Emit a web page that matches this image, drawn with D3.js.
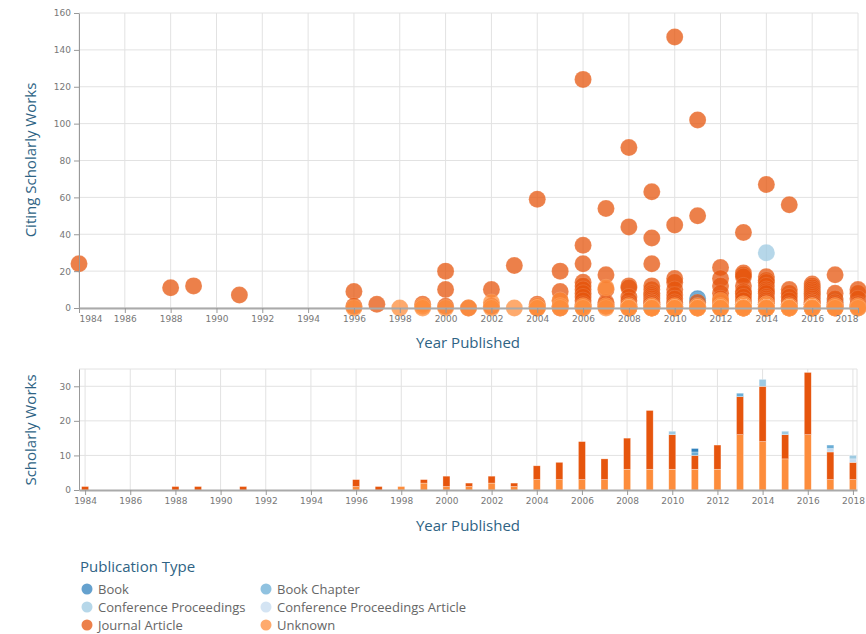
<!DOCTYPE html>
<html>
<head>
<meta charset="utf-8">
<script src="https://cdn.jsdelivr.net/npm/d3@7"></script>
<style>
  body { margin: 0; background: #fff; }
  svg { display: block; }
  .tick text { font-family: "DejaVu Sans", sans-serif; font-size: 9px; fill: #777; }
  .title { font-family: "Open Sans", sans-serif; font-size: 15px; fill: #2e6384; }
  .legend text { font-family: "Open Sans", sans-serif; font-size: 13px; fill: #666; }
</style>
</head>
<body>
<svg></svg>
<script>
const width = 866;
const height = 634;

// publication types, bottom of the stack first
const types = ['Unknown', 'Journal Article', 'Conference Proceedings Article', 'Conference Proceedings', 'Book Chapter', 'Book'];
const legendOrder = ['Book', 'Book Chapter', 'Conference Proceedings', 'Conference Proceedings Article', 'Journal Article', 'Unknown'];
const typeColors = ['#fd8d3c', '#e6550d', '#c6dbef', '#9ecae1', '#6baed6', '#3182bd'];

const years = d3.range(1984, 2019);
const yearTicks = d3.range(1984, 2019, 2);
const citeTicks = [0, 20, 40, 60, 80, 100, 120, 140, 160];
const countTicks = [0, 10, 20, 30];

// citing works of each publication, per year
const journalArticle = {
  1984: [24], 1988: [11], 1989: [12], 1991: [7], 1996: [9, 1], 1997: [2], 1999: [2],
  2000: [20, 10, 1], 2001: [0], 2002: [10, 1], 2003: [23], 2004: [59, 2, 1, 0],
  2005: [20, 9, 4, 1, 0], 2006: [124, 34, 24, 14, 12, 10, 8, 6, 4, 2, 1],
  2007: [54, 18, 10, 3, 2, 1], 2008: [87, 44, 12, 11, 6, 4, 2, 1, 0],
  2009: [63, 38, 24, 12, 10, 8, 7, 6, 5, 4, 3, 3, 2, 2, 1, 1, 0],
  2010: [147, 45, 16, 14, 10, 7, 5, 3, 2, 1], 2011: [102, 50, 3, 1],
  2012: [22, 16, 12, 8, 5, 3, 1], 2013: [41, 19, 18, 17, 12, 9, 8, 6, 4, 2, 1],
  2014: [67, 17, 15, 14, 12, 10, 9, 8, 6, 5, 4, 3, 2, 2, 1, 0],
  2015: [56, 10, 8, 6, 4, 2, 1], 2016: [13, 12, 11, 10, 9, 8, 7, 6, 5, 4, 3, 3, 2, 2, 1, 1, 0, 0],
  2017: [18, 8, 5, 3, 2, 1, 1, 0], 2018: [10, 8, 5, 2, 1]
};
const unknown = {
  1996: [0], 1998: [0], 1999: [1, 0], 2000: [0], 2001: [0], 2002: [3, 0], 2003: [0],
  2004: [1, 0, 0], 2005: [4, 1, 0], 2006: [1, 0, 0], 2007: [11, 1, 0],
  2008: [1, 0, 0, 0, 0, 0], 2009: [1, 0, 0, 0, 0, 0], 2010: [1, 0, 0, 0, 0, 0],
  2011: [1, 0, 0, 0, 0, 0], 2012: [4, 1, 0, 0, 0, 0],
  2013: [2, 1, 1, 0, 0, 0, 0, 0, 0, 0, 0, 0, 0, 0, 0, 0],
  2014: [2, 1, 0, 0, 0, 0, 0, 0, 0, 0, 0, 0, 0, 0],
  2015: [1, 0, 0, 0, 0, 0, 0, 0, 0],
  2016: [1, 1, 0, 0, 0, 0, 0, 0, 0, 0, 0, 0, 0, 0, 0, 0],
  2017: [1, 0, 0], 2018: [1, 0, 0]
};
const book = { 2011: [5] };
const bookChapter = { 2011: [4], 2013: [2], 2017: [4] };
const confProceedings = { 2010: [1], 2014: [30, 3], 2015: [2], 2018: [1] };
const confProceedingsArticle = { 2017: [2], 2018: [0] };

const byType = {
  'Journal Article': journalArticle,
  'Unknown': unknown,
  'Book': book,
  'Book Chapter': bookChapter,
  'Conference Proceedings': confProceedings,
  'Conference Proceedings Article': confProceedingsArticle
};

const color = d3.scaleOrdinal().domain(types).range(typeColors);

const svg = d3.select('svg')
  .attr('width', width)
  .attr('height', height);

// ---------- scatter ----------
const x = d3.scaleLinear().domain([1984, 2018]).range([79, 858]);
const y = d3.scaleLinear().domain([0, 160]).range([308, 13]);

const drawGrid = (g, xs, ys, xVals, yVals) => {
  g.selectAll('.vg').data(xVals).enter().append('line')
    .attr('x1', d => xs(d)).attr('x2', d => xs(d))
    .attr('y1', ys.range()[0]).attr('y2', ys.range()[1])
    .attr('stroke', '#e2e2e2');
  g.selectAll('.hg').data(yVals).enter().append('line')
    .attr('x1', xs.range()[0]).attr('x2', xs.range()[1])
    .attr('y1', d => ys(d)).attr('y2', d => ys(d))
    .attr('stroke', '#e2e2e2');
};

const topChart = svg.append('g');
drawGrid(topChart, x, y, yearTicks, citeTicks);

// blues go underneath the oranges
const points = [];
['Book', 'Book Chapter', 'Conference Proceedings', 'Conference Proceedings Article', 'Journal Article', 'Unknown'].forEach(t => {
  Object.entries(byType[t]).forEach(([yr, list]) => {
    list.forEach(c => points.push({ type: t, year: +yr, cites: c }));
  });
});

topChart.selectAll('circle').data(points).enter().append('circle')
  .attr('cx', d => x(d.year))
  .attr('cy', d => y(d.cites))
  .attr('r', 8.5)
  .attr('fill', d => color(d.type))
  .attr('fill-opacity', 0.75)
  .attr('stroke', '#fff')
  .attr('stroke-opacity', 0.12);

const styleAxis = g => {
  g.select('.domain').attr('stroke', '#999');
  g.selectAll('.tick line').attr('stroke', '#999');
};

topChart.append('g')
  .attr('transform', 'translate(79,0)')
  .call(d3.axisLeft(y).tickValues(citeTicks).tickSize(5).tickSizeOuter(0))
  .call(styleAxis);

topChart.append('g')
  .attr('transform', 'translate(0,308)')
  .call(d3.axisBottom(x).tickValues(yearTicks).tickFormat(d3.format('d')).tickSize(5).tickSizeOuter(0))
  .call(styleAxis)
  .call(g => g.select('.domain').attr('stroke-width', 2).attr('stroke', '#aaa'))
  .call(g => {
    g.selectAll('.tick text').filter(d => d === 1984).attr('text-anchor', 'start');
    g.selectAll('.tick text').filter(d => d === 2018).attr('text-anchor', 'end');
  });

svg.append('text').attr('class', 'title')
  .attr('transform', 'translate(36,160) rotate(-90)')
  .attr('text-anchor', 'middle')
  .text('Citing Scholarly Works');

svg.append('text').attr('class', 'title')
  .attr('x', 468).attr('y', 348)
  .attr('text-anchor', 'middle')
  .text('Year Published');

// ---------- stacked bars ----------
const x2 = d3.scaleLinear().domain([1983.73, 2018.18]).range([79, 857]);
const y2 = d3.scaleLinear().domain([0, 35]).range([490, 369]);

const rows = years.map(yr => {
  const row = { year: yr };
  types.forEach(t => { row[t] = (byType[t][yr] || []).length; });
  return row;
});

const series = d3.stack().keys(types)(rows);

const bottomChart = svg.append('g');
drawGrid(bottomChart, x2, y2, yearTicks, [10, 20, 30, 35]);
bottomChart.append('line')
  .attr('x1', 857).attr('x2', 857).attr('y1', 369).attr('y2', 490)
  .attr('stroke', '#e2e2e2');

bottomChart.selectAll('.layer').data(series).enter().append('g')
  .attr('fill', d => color(d.key))
  .selectAll('rect')
  .data(d => d.filter(s => s[1] > s[0]))
  .enter().append('rect')
  .attr('x', d => x2(d.data.year) - 3.5)
  .attr('width', 7)
  .attr('y', d => y2(d[1]))
  .attr('height', d => y2(d[0]) - y2(d[1]))
  .attr('stroke', '#fff')
  .attr('stroke-width', 0.6)
  .attr('stroke-opacity', 0.5);

bottomChart.append('g')
  .attr('transform', 'translate(79,0)')
  .call(d3.axisLeft(y2).tickValues(countTicks).tickSize(5).tickSizeOuter(0))
  .call(styleAxis);

bottomChart.append('g')
  .attr('transform', 'translate(0,490)')
  .call(d3.axisBottom(x2).tickValues(yearTicks).tickFormat(d3.format('d')).tickSize(5).tickSizeOuter(0))
  .call(styleAxis)
  .call(g => g.select('.domain').attr('stroke-width', 2).attr('stroke', '#aaa'));

svg.append('text').attr('class', 'title')
  .attr('transform', 'translate(36,430) rotate(-90)')
  .attr('text-anchor', 'middle')
  .text('Scholarly Works');

svg.append('text').attr('class', 'title')
  .attr('x', 468).attr('y', 531)
  .attr('text-anchor', 'middle')
  .text('Year Published');

// ---------- legend ----------
svg.append('text').attr('class', 'title')
  .attr('x', 80).attr('y', 572)
  .text('Publication Type');

const legend = svg.append('g').attr('class', 'legend');
const item = legend.selectAll('g').data(legendOrder).enter().append('g')
  .attr('transform', (d, i) => `translate(${i % 2 ? 266 : 87},${589 + Math.floor(i / 2) * 18})`);
item.append('circle').attr('r', 5.5).attr('fill', d => color(d)).attr('fill-opacity', 0.75);
item.append('text').attr('x', 11).attr('y', 4.5).text(d => d);
</script>
</body>
</html>
